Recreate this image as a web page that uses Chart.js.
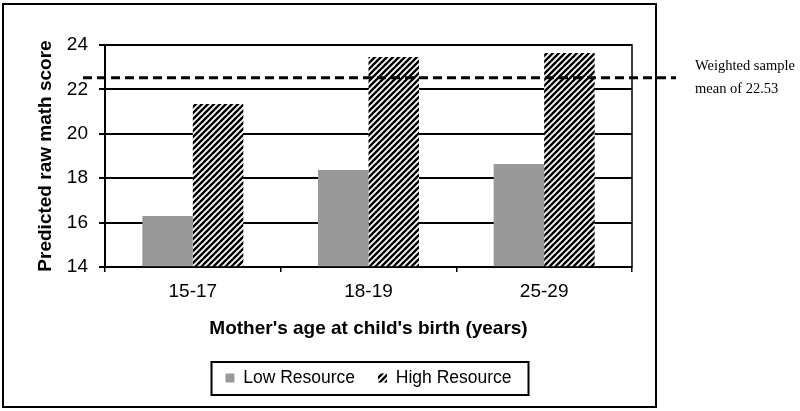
<!DOCTYPE html>
<html>
<head>
<meta charset="utf-8">
<script src="https://cdn.jsdelivr.net/npm/chart.js@4.4.1/dist/chart.umd.min.js"></script>
<style>
  html, body { margin: 0; padding: 0; background: #fff; }
</style>
</head>
<body>
<canvas id="mainCanvas" width="800" height="411"></canvas>
<script>
// chart data
const ageGroups = ['15-17', '18-19', '25-29'];
const lowResource = [16.3, 18.37, 18.64];
const highResource = [21.34, 23.46, 23.64];
const sampleMean = 22.53;
const yRange = [14, 24];
const yStep = 2;
const meanNote = ['Weighted sample', 'mean of 22.53'];

const SANS = '"Liberation Sans", Arial, sans-serif';
const SERIF = '"Liberation Serif", "Times New Roman", serif';

// black diagonal stripes on white
function makeHatch() {
  const size = 6;
  const c = document.createElement('canvas');
  c.width = size;
  c.height = size;
  const g = c.getContext('2d');
  g.fillStyle = '#fff';
  g.fillRect(0, 0, size, size);
  g.strokeStyle = '#000';
  g.lineWidth = 2.4;
  g.beginPath();
  g.moveTo(-1, size + 1); g.lineTo(size + 1, -1);
  g.moveTo(-2, 2); g.lineTo(2, -2);
  g.moveTo(size - 2, size + 2); g.lineTo(size + 2, size - 2);
  g.stroke();
  return g.createPattern(c, 'repeat');
}

const framePlugin = {
  id: 'frame',
  afterDraw(chart) {
    const { ctx, chartArea: a, scales: { y } } = chart;
    ctx.save();
    ctx.strokeStyle = '#000';

    // plot box
    ctx.lineWidth = 1.5;
    ctx.strokeRect(a.left, a.top, a.right - a.left, a.bottom - a.top);

    // outer frame
    ctx.lineWidth = 2;
    ctx.strokeRect(3, 4, a.right + 24 - 3, 403);

    // legend frame
    const hb = chart.legend.legendHitBoxes;
    if (hb && hb.length) {
      const first = hb[0], last = hb[hb.length - 1];
      const cy = first.top + first.height / 2;
      const x0 = first.left - 14;
      const x1 = last.left + last.width + 17;
      ctx.lineWidth = 2;
      ctx.strokeRect(Math.round(x0) + 0.5, Math.round(cy - 16.5), Math.round(x1 - x0), 33);
    }

    // weighted mean line
    const ym = y.getPixelForValue(sampleMean);
    ctx.setLineDash([9, 5]);
    ctx.lineWidth = 3;
    ctx.beginPath();
    ctx.moveTo(a.left - 22, ym);
    ctx.lineTo(a.right + 44, ym);
    ctx.stroke();
    ctx.setLineDash([]);

    ctx.fillStyle = '#000';
    ctx.font = '14.5px ' + SERIF;
    ctx.textBaseline = 'alphabetic';
    ctx.fillText(meanNote[0], a.right + 63, ym - 8);
    ctx.fillText(meanNote[1], a.right + 63, ym + 15);
    ctx.restore();
  }
};

document.addEventListener('DOMContentLoaded', () => {
  const ctx = document.getElementById('mainCanvas').getContext('2d');
  const hatch = makeHatch();

  Chart.defaults.color = '#000';
  Chart.defaults.font.family = SANS;

  new Chart(ctx, {
    type: 'bar',
    data: {
      labels: ageGroups,
      datasets: [
        { label: 'Low Resource', data: lowResource, backgroundColor: '#999999', borderWidth: 0 },
        { label: 'High Resource', data: highResource, backgroundColor: hatch, borderWidth: 0 }
      ]
    },
    options: {
      responsive: false,
      animation: false,
      categoryPercentage: 0.575,
      barPercentage: 1.0,
      layout: { padding: { left: 0, right: 168, top: 45, bottom: 14.25 } },
      plugins: {
        tooltip: { enabled: false },
        legend: {
          position: 'bottom',
          fullSize: false,
          labels: {
            boxWidth: 9,
            boxHeight: 9,
            padding: 23,
            color: '#000',
            font: { size: 17.5, family: SANS }
          }
        }
      },
      scales: {
        x: {
          grid: { drawOnChartArea: false, drawTicks: true, tickLength: 5, color: '#000', lineWidth: 1.5 },
          border: { display: true, color: '#000', width: 2 },
          ticks: { padding: 8, color: '#000', font: { size: 19 } },
          title: {
            display: true,
            text: "Mother's age at child's birth (years)",
            color: '#000',
            font: { size: 19, weight: 'bold' },
            padding: { top: 0, bottom: 6 }
          },
          afterFit: (s) => { s.height = 79.25; }
        },
        y: {
          min: yRange[0],
          max: yRange[1],
          grid: { color: '#000', lineWidth: 2, tickLength: 6 },
          border: { display: true, color: '#000', width: 2 },
          ticks: { stepSize: yStep, padding: 11, color: '#000', font: { size: 19 } },
          title: {
            display: true,
            text: 'Predicted raw math score',
            color: '#000',
            font: { size: 19, weight: 'bold' },
            padding: { top: 34.6, bottom: 0 }
          },
          afterFit: (s) => { s.width = 105; }
        }
      }
    },
    plugins: [framePlugin]
  });
});
</script>
</body>
</html>
